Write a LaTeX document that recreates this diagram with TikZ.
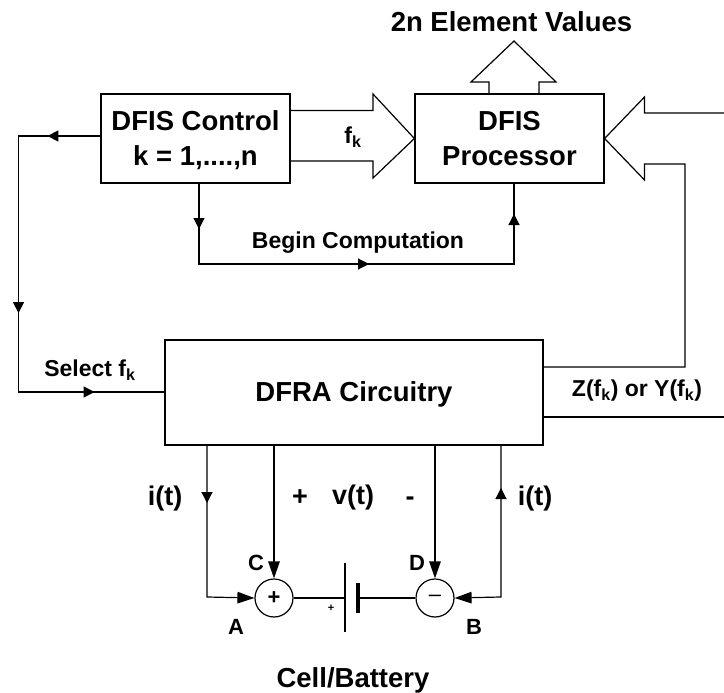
\documentclass[tikz,border=0pt]{standalone}
\usepackage{fontspec}
\setmainfont{Liberation Sans}
\usepackage{tikz}
\usetikzlibrary{arrows.meta,calc,decorations.markings}
\tikzset{
  blockbox/.style={draw, rectangle, inner sep=0pt, align=center, font=\bfseries\fontsize{27.5}{35}\selectfont},
  midtip/.style={postaction={decorate, decoration={markings, mark=at position #1 with {\arrow{Triangle[length=11pt,width=11pt]}}}}},
  midtiprev/.style={postaction={decorate, decoration={markings, mark=at position #1 with {\arrowreversed{Triangle[length=11pt,width=11pt]}}}}},
  bigtip/.style={-{Triangle[length=17pt,width=11.5pt]}},
  lab/.style={inner sep=0pt, font=\bfseries\fontsize{#1}{#1}\selectfont},
  lab/.default=23
}
\begin{document}
\begin{tikzpicture}[x=1pt, y=-1pt, line width=1.2pt]
\useasboundingbox (0,0) rectangle (724,693);
% blocks
\node[blockbox, minimum width=189pt, minimum height=89pt] (ctrl) at (195.5,138.5) {DFIS Control\\\smash{k = 1,....,n}};
\node[blockbox, minimum width=189pt, minimum height=89pt] (proc) at (509.5,138.5) {DFIS\\Processor};
\node[blockbox, minimum width=378pt, minimum height=105pt] (dfra) at (354,392.5) {\raisebox{-2pt}[\height][\depth]{DFRA Circuitry}};
% probes and cell
\node[draw, circle, minimum size=38pt, inner sep=0pt, font=\bfseries\fontsize{22}{22}\selectfont] (plus) at (274,598) {+};
\node[draw, circle, minimum size=38pt, inner sep=0pt, font=\fontsize{22}{22}\selectfont] (minus) at (435,598) {--};
\coordinate (pos) at (345,598);
\coordinate (neg) at (358,598);
\draw (plus) -- (pos);
\draw (neg) -- (minus);
\draw ($(pos)+(0,-35)$) -- ($(pos)+(0,34)$);
\draw[line width=4.5pt] ($(neg)+(0,-15)$) -- ($(neg)+(0,15)$);
% f_k bus
\coordinate (fktip) at (proc.west);
\draw (ctrl.east |- 0,110.5) -- (373,110.5) -- (373,94) -- (fktip) -- (373,178) -- (373,161) -- (ctrl.east |- 0,161);
% element values
\draw (489,94) -- (489,82) -- (471,82) -- (514,41) -- (556,82) -- (539,82) -- (539,94);
% measured bus
\coordinate (ztip) at (proc.east);
\draw (724,113) -- (644.5,113) -- (644.5,97) -- (ztip) -- (644.5,180) -- (644.5,164) -- (685,164) -- (685,367) -- (dfra.east |- 0,367);
\draw (dfra.east |- 0,417) -- (724,417);
% control lines
\draw[midtip=53pt, midtip=259pt, midtip=414pt] (ctrl.west |- 0,136) -- (18.5,136) -- (18.5,392) -- (dfra.west |- 0,392);
\draw[midtip=46pt, midtip=251pt, midtip=446pt] (199,183) -- (199,264) -- (514,264) -- (514,183);
\draw[bigtip, midtip=58pt] (207,445) -- (207,597) -- (plus.west);
\draw[bigtip] (plus.north |- dfra.south) -- (plus.north);
\draw[bigtip] (minus.north |- dfra.south) -- (minus.north);
\draw[bigtip, midtiprev=43pt] (501,445) -- (501,597) -- (minus.east);
% labels
\node[lab=27.5] (values) at (511.5,22) {2n Element Values};
\node[lab] (fk) at (353,137) {f\textsubscript{k}};
\node[lab] (begin) at (358,243) {Begin Computation};
\node[lab] (select) at (90,370) {Select f\textsubscript{k}};
\node[lab] (zy) at (637,391) {Z(f\textsubscript{k}) or Y(f\textsubscript{k})};
\node[lab=27] (il) at (165,499) {i(t)};
\node[lab=27] (ir) at (535,499) {i(t)};
\node[lab=27] (vt) at (353,498) {v(t)};
\node[lab=27] (vp) at (300,498) {+};
\node[lab=27] (vm) at (410,501) {-};
\node[lab=22] (nodeA) at (236,627) {A};
\node[lab=22] (nodeB) at (474,627) {B};
\node[lab=22] (nodeC) at (256,563) {C};
\node[lab=22] (nodeD) at (417,563) {D};
\node[lab=11] (cellplus) at (331,608) {+};
\node[lab=27.5] (cell) at (353,680) {Cell/Battery};
\end{tikzpicture}
\end{document}
